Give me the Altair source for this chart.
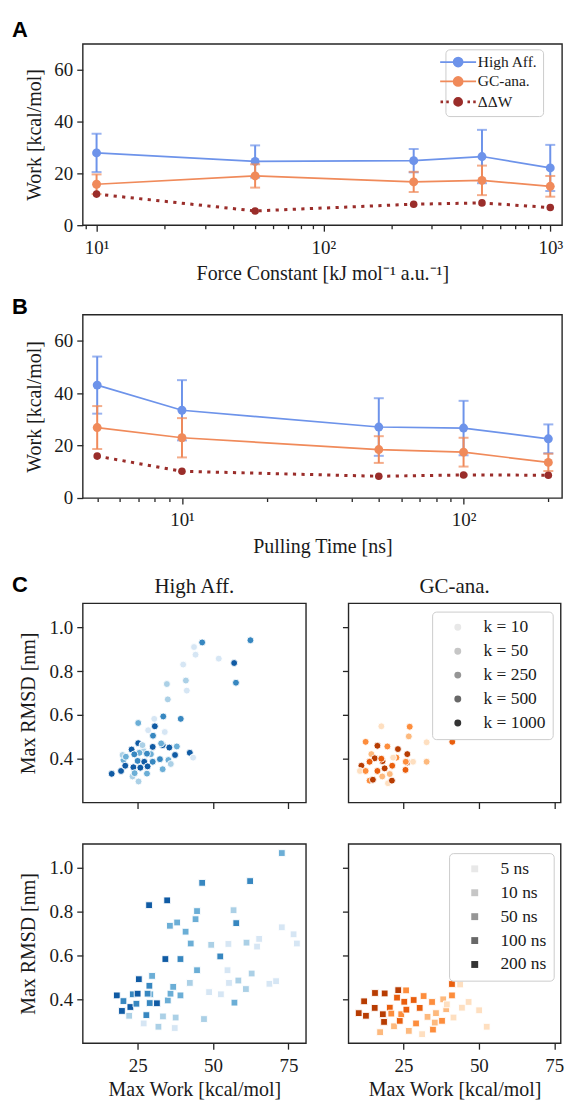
import altair as alt
import pandas as pd

# ---------------- data ----------------
SERIES = ["High Aff.", "GC-ana.", "ΔΔW"]

force_constants = [10, 50, 250, 500, 1000]
a_high_aff = [27.9, 24.6, 24.9, 26.5, 22.1]
a_high_aff_err = [7.4, 6.2, 4.5, 10.3, 8.9]
a_gc_ana = [15.8, 19.0, 16.7, 17.3, 15.0]
a_gc_ana_err = [3.8, 4.5, 3.9, 5.7, 4.0]
a_ddw = [12.0, 5.5, 8.1, 8.6, 6.8]

pulling_times = [5, 10, 50, 100, 200]
b_high_aff = [43.1, 33.5, 27.1, 26.7, 22.6]
b_high_aff_err = [10.9, 11.5, 11.0, 10.4, 5.5]
b_gc_ana = [26.9, 23.0, 18.5, 17.5, 13.6]
b_gc_ana_err = [8.2, 7.5, 5.1, 5.5, 3.3]
b_ddw = [16.0, 10.2, 8.3, 8.8, 8.7]

k_levels = [10, 50, 250, 500, 1000]
k_labels = ["k = 10", "k = 50", "k = 250", "k = 500", "k = 1000"]
t_levels = [5, 10, 50, 100, 200]
t_labels = ["5 ns", "10 ns", "50 ns", "100 ns", "200 ns"]

# C, High Aff., force constant series
ha_k_work = [16.4, 19.5, 20.3, 20.0, 20.9, 23.0, 23.3, 23.6, 25.2, 25.2, 25.3, 25.0, 25.9, 27.2,
             28.1, 28.3, 29.4, 30.0, 30.1, 30.7, 30.5, 28.5, 27.0, 33.5, 33.3, 32.4, 33.3, 34.0,
             34.7, 35.0, 35.2, 35.5, 36.0, 37.4, 38.0, 39.3, 40.1, 41.0, 41.3, 42.3, 43.4, 43.7,
             44.2, 46.4, 51.9, 57.0, 57.6, 62.4, 25.6, 26.6, 30.0, 24.0, 21.1, 23.9, 28.1, 32.8]
ha_k_rmsd = [0.331, 0.344, 0.394, 0.417, 0.368, 0.442, 0.319, 0.361, 0.471, 0.563, 0.296, 0.39,
             0.359, 0.386, 0.332, 0.365, 0.421, 0.454, 0.505, 0.548, 0.582, 0.53, 0.435, 0.593,
             0.462, 0.398, 0.352, 0.522, 0.741, 0.671, 0.394, 0.451, 0.376, 0.417, 0.456, 0.582,
             0.83, 0.757, 0.711, 0.427, 0.405, 0.91, 0.875, 0.931, 0.857, 0.837, 0.747, 0.941,
             0.427, 0.462, 0.386, 0.334, 0.409, 0.42, 0.423, 0.47]
ha_k_level = [1000, 1000, 250, 50, 1000, 1000, 50, 1000, 1000, 250, 50, 500, 1000, 1000, 250,
              1000, 250, 1000, 500, 1000, 10, 10, 50, 500, 1000, 500, 250, 10, 50, 50, 250, 1000,
              50, 1000, 250, 500, 10, 50, 10, 1000, 10, 10, 10, 500, 10, 1000, 500, 500, 250, 50,
              500, 250, 250, 500, 500, 250]

# C, GC-ana., force constant series
gc_k_work = [11.1, 10.6, 12.5, 12.5, 13.8, 14.4, 15.5, 16.4, 16.4, 14.9, 17.7, 18.1, 18.8, 18.0,
             19.7, 19.9, 21.2, 20.5, 21.3, 22.7, 23.2, 25.7, 26.3, 26.3, 25.8, 27.1, 26.8, 28.2,
             32.7, 32.7, 41.2, 21.6, 17.7, 13.8]
gc_k_rmsd = [0.368, 0.344, 0.477, 0.344, 0.30, 0.421, 0.402, 0.459, 0.344, 0.304, 0.548, 0.389,
             0.356, 0.319, 0.456, 0.288, 0.30, 0.33, 0.368, 0.405, 0.444, 0.349, 0.383, 0.421,
             0.386, 0.546, 0.502, 0.386, 0.475, 0.386, 0.477, 0.405, 0.40, 0.386]
gc_k_level = [1000, 10, 250, 250, 250, 50, 1000, 1000, 500, 1000, 10, 1000, 1000, 50, 250, 10,
              1000, 50, 500, 250, 1000, 500, 1000, 1000, 250, 250, 50, 10, 10, 50, 500, 10, 500, 500]

# C, High Aff., pulling time series
ha_t_work = [18.1, 19.8, 20.3, 22.2, 22.6, 23.4, 25.0, 25.4, 27.0, 27.9, 28.8, 28.9, 29.2, 29.8,
             31.4, 31.9, 33.4, 34.2, 34.8, 35.0, 35.7, 35.9, 36.8, 37.6, 37.3, 38.1, 39.2, 39.2,
             40.9, 42.3, 42.6, 44.2, 44.7, 44.7, 46.4, 47.0, 48.7, 49.4, 52.6, 52.4, 54.8, 55.3,
             55.1, 56.8, 57.1, 57.7, 58.4, 61.1, 60.9, 62.3, 62.8, 65.3, 64.6, 68.7, 70.9, 72.8,
             72.8, 76.7, 77.8, 24.6, 28.3, 29.0]
ha_t_rmsd = [0.418, 0.347, 0.392, 0.325, 0.365, 0.423, 0.426, 0.492, 0.29, 0.328, 0.83, 0.462,
             0.423, 0.507, 0.382, 0.275, 0.322, 0.584, 0.852, 0.395, 0.736, 0.426, 0.457, 0.317,
             0.269, 0.751, 0.584, 0.418, 0.709, 0.475, 0.655, 0.766, 0.803, 0.533, 0.932, 0.31,
             0.433, 0.649, 0.423, 0.596, 0.533, 0.475, 0.653, 0.807, 0.385, 0.748, 0.486, 0.659,
             0.447, 0.94, 0.518, 0.676, 0.641, 0.471, 0.483, 1.068, 0.729, 0.697, 0.655, 0.38,
             0.426, 0.383]
ha_t_level = [200, 200, 100, 10, 200, 100, 200, 200, 5, 100, 200, 100, 50, 50, 200, 10, 10, 200,
              200, 50, 50, 50, 50, 10, 5, 50, 100, 50, 50, 10, 50, 50, 50, 50, 100, 10, 5, 10, 5,
              100, 5, 5, 5, 10, 50, 100, 10, 10, 10, 100, 10, 5, 5, 5, 5, 50, 5, 5, 5, 100, 100, 100]

# C, GC-ana., pulling time series
gc_t_work = [10.2, 12.0, 12.6, 15.6, 15.5, 17.3, 18.2, 18.6, 18.8, 20.5, 21.0, 21.9, 22.9, 23.3,
             23.8, 24.3, 25.3, 25.9, 26.0, 26.8, 28.4, 29.2, 30.4, 31.2, 31.7, 33.0, 34.5, 34.8,
             35.4, 35.8, 37.8, 38.2, 39.2, 41.1, 41.1, 43.8, 41.6, 44.4, 46.6, 50.1, 52.6, 39.4]
gc_t_rmsd = [0.337, 0.391, 0.325, 0.429, 0.361, 0.25, 0.332, 0.297, 0.427, 0.362, 0.335, 0.277,
             0.408, 0.442, 0.302, 0.332, 0.389, 0.441, 0.353, 0.256, 0.397, 0.29, 0.361, 0.241,
             0.415, 0.32, 0.388, 0.262, 0.294, 0.337, 0.302, 0.4, 0.355, 0.47, 0.418, 0.468,
             0.317, 0.362, 0.388, 0.35, 0.275, 0.377]
gc_t_level = [200, 200, 200, 200, 200, 10, 200, 200, 200, 100, 50, 10, 100, 200, 100, 50, 100,
              50, 100, 10, 100, 50, 100, 5, 50, 10, 50, 50, 10, 10, 50, 10, 10, 100, 50, 5, 5, 5,
              5, 5, 5, 5]

# ---------------- styles ----------------
FONT = "Liberation Serif"
TXT = "#1a1a1a"
FRAME = "#262626"
LINE_COLORS = ["#6d93ea", "#f08a5a", "#9a2d2a"]
BLUES = ["#d6e6f4", "#abd0e6", "#6baed6", "#3787c0", "#105ba4"]
ORANGES = ["#fedfc0", "#fdb97d", "#fd8d3c", "#e95e0d", "#b73c02"]
GREYS = ["#e8e8e8", "#c6c6c6", "#969696", "#686868", "#343434"]

SOLID_PATH = "M-1,0L1,0M0.25,0A0.25,0.25,0,1,1,-0.25,0A0.25,0.25,0,1,1,0.25,0Z"
DOT_PATH = ("M-0.98,0L-0.84,0M-0.66,0L-0.52,0M0.52,0L0.66,0M0.84,0L0.98,0"
            "M0.2,0A0.2,0.2,0,1,1,-0.2,0A0.2,0.2,0,1,1,0.2,0Z")

AB_WIDTH = 481
C_LEFT_W = 224
C_RIGHT_W = 213
C_HEIGHT = 200


def line_df(xs, hi, hi_err, gc, gc_err, ddw):
    rows = []
    for i, xv in enumerate(xs):
        rows.append({"x": xv, "series": SERIES[0], "y": hi[i],
                     "lo": hi[i] - hi_err[i], "up": hi[i] + hi_err[i]})
        rows.append({"x": xv, "series": SERIES[1], "y": gc[i],
                     "lo": gc[i] - gc_err[i], "up": gc[i] + gc_err[i]})
        rows.append({"x": xv, "series": SERIES[2], "y": ddw[i], "lo": None, "up": None})
    return pd.DataFrame(rows)


def text_layer(text, dx, dy, bold=False, size=22, align="left"):
    return alt.Chart(pd.DataFrame({"t": [text]})).mark_text(
        font="Liberation Sans" if bold else FONT, fontWeight="bold" if bold else "normal",
        fontSize=size, align=align, baseline="alphabetic", color="black" if bold else TXT
    ).encode(text="t:N", x=alt.value(dx), y=alt.value(dy))


def line_panel(df, letter, letter_y, xdomain, xticks, xtitle, height, legend_y):
    major = "indexof([10, 100, 1000], datum.value) >= 0"
    xaxis = alt.Axis(
        values=xticks, title=xtitle, labelOverlap=False, labelFlush=False,
        labelExpr="datum.value == 10 ? '10¹' : datum.value == 100 ? '10²' : datum.value == 1000 ? '10³' : ''",
        tickSize={"condition": {"test": major, "value": 6}, "value": 3.5},
        labelPadding=7, titlePadding=7,
    )
    yaxis = alt.Axis(values=[0, 20, 40, 60], title="Work [kcal/mol]", tickSize=6,
                     labelPadding=4, titlePadding=9, labelFlush=False)
    X = alt.X("x:Q", scale=alt.Scale(type="log", domain=xdomain, nice=False), axis=xaxis)
    yscale = alt.Scale(domain=[0, 70], nice=False)
    shape_expr = "datum.value === 'ΔΔW' ? '" + DOT_PATH + "' : '" + SOLID_PATH + "'"
    stroke_expr = ("datum.value === 'High Aff.' ? '%s' : datum.value === 'GC-ana.' ? '%s' : '%s'"
                   % tuple(LINE_COLORS))
    legend = alt.Legend(
        title=None, orient="none", legendX=364, legendY=legend_y,
        symbolType=alt.ExprRef(expr=shape_expr), symbolSize=1300,
        symbolStrokeWidth=alt.ExprRef(expr="datum.value === 'ΔΔW' ? 2.6 : 1.8"),
        symbolStrokeColor=alt.ExprRef(expr=stroke_expr),
        labelFont=FONT, labelFontSize=15.5, labelColor=TXT, labelOffset=12,
        fillColor="white", strokeColor="#cccccc", cornerRadius=4, padding=5,
        rowPadding=1.5, symbolOpacity=1,
    )
    base = alt.Chart(df)
    layers = []
    for s, c in zip(SERIES, LINE_COLORS):
        sub = base.transform_filter(alt.datum.series == s)
        if s != "ΔΔW":
            layers.append(sub.mark_rule(color=c, strokeWidth=2).encode(
                x=X, y=alt.Y("lo:Q", scale=yscale, axis=yaxis), y2="up:Q"))
            for f in ["lo", "up"]:
                layers.append(sub.mark_tick(orient="horizontal", color=c, size=10, thickness=2).encode(
                    x=X, y=alt.Y(f + ":Q", scale=yscale, axis=yaxis)))
            layers.append(sub.mark_line(color=c, strokeWidth=1.7).encode(
                x=X, y=alt.Y("y:Q", scale=yscale, axis=yaxis)))
            size = 80
        else:
            layers.append(sub.mark_line(color=c, strokeWidth=3, strokeDash=[3.2, 5.4]).encode(
                x=X, y=alt.Y("y:Q", scale=yscale, axis=yaxis)))
            size = 58
        layers.append(sub.mark_circle(size=size, opacity=1).encode(
            x=X, y=alt.Y("y:Q", scale=yscale, axis=yaxis),
            color=alt.Color("series:N", scale=alt.Scale(domain=SERIES, range=LINE_COLORS), legend=legend)))
    layers.append(text_layer(letter, -71, letter_y, bold=True))
    return alt.layer(*layers).properties(width=AB_WIDTH, height=height)


def scatter_panel(work, rmsd, level, levels, labels, palette, shape, width, xmax,
                  left, bottom, title=None, legend_pos=None, letter=None):
    df = pd.DataFrame({"work": work, "rmsd": rmsd,
                       "grp": [labels[levels.index(v)] for v in level]})
    xaxis = alt.Axis(values=[25, 50, 75], tickSize=6, labels=bottom, labelPadding=7,
                     title="Max Work [kcal/mol]" if bottom else None, titlePadding=5,
                     labelFlush=False)
    yaxis = alt.Axis(values=[0.4, 0.6, 0.8, 1.0], format=".1f", tickSize=6, labels=left,
                     labelPadding=4, title="Max RMSD [nm]" if left else None, titlePadding=11,
                     labelFlush=False, minExtent=6 if not left else 30)
    X = alt.X("work:Q", scale=alt.Scale(domain=[6.8, xmax], nice=False, zero=False), axis=xaxis)
    Y = alt.Y("rmsd:Q", scale=alt.Scale(domain=[0.2, 1.11], nice=False, zero=False), axis=yaxis)
    base = alt.Chart(df)
    if shape == "circle":
        pts = base.mark_circle(size=48, opacity=1, stroke="white", strokeWidth=0.9)
    else:
        pts = base.mark_square(size=46, opacity=1, stroke="white", strokeWidth=0.9)
    layers = [pts.encode(x=X, y=Y, color=alt.Color(
        "grp:N", scale=alt.Scale(domain=labels, range=palette), legend=None))]
    if legend_pos is not None:
        leg = alt.Legend(
            title=None, orient="none", legendX=legend_pos[0], legendY=legend_pos[1],
            symbolType=shape, symbolSize=48, symbolStrokeWidth=0, symbolOpacity=1,
            symbolOffset=10, labelFont=FONT, labelFontSize=17.5, labelColor=TXT, labelOffset=17,
            fillColor="white", strokeColor="#cccccc", cornerRadius=4, padding=7,
            rowPadding=5,
        )
        lg = base.mark_point(opacity=0, filled=True, shape=shape).encode(
            x=X, y=Y, fill=alt.Fill("grp:N", scale=alt.Scale(domain=labels, range=GREYS), legend=leg))
        layers.append(lg)
    if title is not None:
        layers.append(text_layer(title, width / 2, -10, size=21, align="center"))
    if letter is not None:
        layers.append(text_layer(letter, -71, -11.3, bold=True))
    ch = alt.layer(*layers).resolve_scale(color="independent", fill="independent")
    return ch.properties(width=width, height=C_HEIGHT)


panel_a = line_panel(line_df(force_constants, a_high_aff, a_high_aff_err, a_gc_ana, a_gc_ana_err, a_ddw),
                     "A", -6.7, [10 ** 0.939, 10 ** 3.0518],
                     [9, 10, 20, 30, 40, 50, 60, 70, 80, 90, 100, 200, 300, 400, 500, 600, 700, 800, 900, 1000],
                     "Force Constant [kJ mol⁻¹ a.u.⁻¹]", 182, 5.5)
panel_b = line_panel(line_df(pulling_times, b_high_aff, b_high_aff_err, b_gc_ana, b_gc_ana_err, b_ddw),
                     "B", -0.6, [10 ** 0.6476, 10 ** 2.3496],
                     [5, 6, 7, 8, 9, 10, 20, 30, 40, 50, 60, 70, 80, 90, 100, 200],
                     "Pulling Time [ns]", 184, 8.4)

c11 = scatter_panel(ha_k_work, ha_k_rmsd, ha_k_level, k_levels, k_labels, BLUES, "circle", C_LEFT_W, 80.8,
                    True, False, title="High Aff.", letter="C")
c12 = scatter_panel(gc_k_work, gc_k_rmsd, gc_k_level, k_levels, k_labels, ORANGES, "circle", C_RIGHT_W, 77.1,
                    False, False, title="GC-ana.", legend_pos=(84, 8.4))
c21 = scatter_panel(ha_t_work, ha_t_rmsd, ha_t_level, t_levels, t_labels, BLUES, "square", C_LEFT_W, 80.8,
                    True, True)
c22 = scatter_panel(gc_t_work, gc_t_rmsd, gc_t_level, t_levels, t_labels, ORANGES, "square", C_RIGHT_W, 77.1,
                    False, True, legend_pos=(101, 9.3))

panel_c = alt.vconcat(alt.hconcat(c11, c12, spacing=33.65), alt.hconcat(c21, c22, spacing=33.65),
                      spacing=32.5)

top_ab = alt.vconcat(panel_a, panel_b, spacing=9.8)
chart = alt.vconcat(top_ab, panel_c, spacing=15.4).properties(
    padding={"left": 3, "top": 8, "right": 0, "bottom": 0}
).configure_view(stroke=FRAME, strokeWidth=1.4).configure_axis(
    domain=False, grid=False, labelFont=FONT, titleFont=FONT, labelFontSize=19, titleFontSize=20,
    labelColor=TXT, titleColor=TXT, tickColor=FRAME, tickWidth=1.3, titleFontWeight="normal"
)

chart.save("out.html", embed_options={"renderer": "svg", "actions": False})
